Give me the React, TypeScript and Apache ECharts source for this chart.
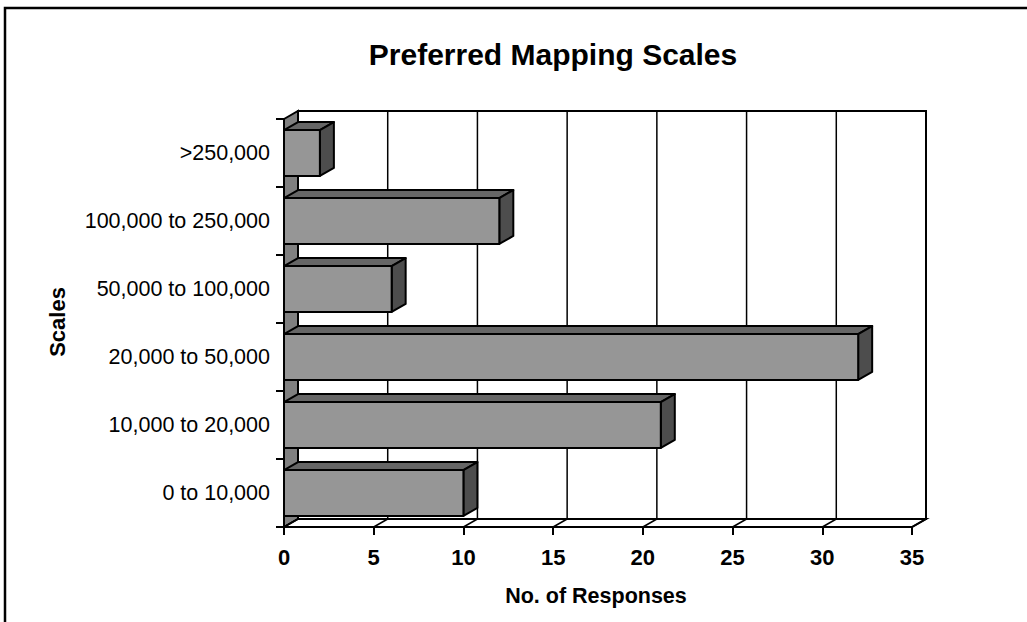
import React, { useEffect, useRef } from "react";
import * as echarts from "echarts";

const categories = [
  "0 to 10,000",
  "10,000 to 20,000",
  "20,000 to 50,000",
  "50,000 to 100,000",
  "100,000 to 250,000",
  ">250,000",
];
const responses = [10, 21, 32, 6, 12, 2];
const xTicks = [0, 5, 10, 15, 20, 25, 30, 35];

const DX = 14;
const DY = 8;

export default function App() {
  const ref = useRef<HTMLDivElement>(null);
  useEffect(() => {
    if (!ref.current) return;
    const chart = echarts.init(ref.current, undefined, { renderer: "svg" });
    const font = "Arial, 'Liberation Sans', sans-serif";
    const option: any = {
      animation: false,
      backgroundColor: "#ffffff",
      grid: { left: 284, top: 119, width: 628, height: 408, containLabel: false },
      xAxis: {
        type: "value",
        min: 0,
        max: 35,
        interval: 5,
        splitLine: { show: false },
        axisLine: { show: true, lineStyle: { color: "#000", width: 2 } },
        axisTick: { show: true, length: 8, lineStyle: { color: "#000", width: 2 } },
        axisLabel: { color: "#000", fontSize: 22, fontWeight: "bold", fontFamily: font, margin: 19 },
        z: 5,
      },
      yAxis: {
        type: "category",
        data: categories,
        boundaryGap: true,
        axisLine: { show: true, lineStyle: { color: "#000", width: 2 } },
        axisTick: { show: true, length: 8, lineStyle: { color: "#000", width: 2 } },
        axisLabel: { color: "#000", fontSize: 21.5, fontFamily: font, margin: 14 },
        splitLine: { show: false },
        z: 5,
      },
      graphic: [
        {
          type: "polyline",
          shape: { points: [[5, 640], [5, 8], [1040, 8]] },
          style: { stroke: "#000", lineWidth: 2.5, fill: null },
          z: 10,
        },
        {
          type: "text",
          x: 553,
          y: 54,
          style: {
            text: "Preferred Mapping Scales",
            fontSize: 30,
            fontWeight: "bold",
            fontFamily: font,
            fill: "#000",
            textAlign: "center",
            textVerticalAlign: "middle",
          },
        },
        {
          type: "text",
          x: 596,
          y: 596,
          style: {
            text: "No. of Responses",
            fontSize: 21.5,
            fontWeight: "bold",
            fontFamily: font,
            fill: "#000",
            textAlign: "center",
            textVerticalAlign: "middle",
          },
        },
        {
          type: "text",
          x: 57,
          y: 322,
          rotation: Math.PI / 2,
          style: {
            text: "Scales",
            fontSize: 22,
            fontWeight: "bold",
            fontFamily: font,
            fill: "#000",
            textAlign: "center",
            textVerticalAlign: "middle",
          },
        },
      ],
      series: [
        {
          type: "custom",
          clip: false,
          z: 1,
          data: [[0, 0]],
          renderItem: (params: any, api: any) => {
            const cs = params.coordSys;
            const x0 = cs.x;
            const y0 = cs.y;
            const x1 = cs.x + cs.width;
            const y1 = cs.y + cs.height;
            const children: any[] = [];
            children.push({
              type: "polygon",
              shape: { points: [[x0, y0], [x0 + DX, y0 - DY], [x0 + DX, y1 - DY], [x0, y1]] },
              style: { fill: "#808080", stroke: "#000", lineWidth: 2 },
            });
            children.push({
              type: "rect",
              shape: { x: x0 + DX, y: y0 - DY, width: x1 - x0, height: y1 - y0 },
              style: { fill: "#fff", stroke: "#000", lineWidth: 2 },
            });
            children.push({
              type: "polygon",
              shape: { points: [[x0, y1], [x0 + DX, y1 - DY], [x1 + DX, y1 - DY], [x1, y1]] },
              style: { fill: "#fff", stroke: "#000", lineWidth: 2 },
            });
            xTicks.forEach((t) => {
              const px = api.coord([t, 0])[0];
              if (t > 0 && t < 35) {
                children.push({
                  type: "line",
                  shape: { x1: px + DX, y1: y0 - DY, x2: px + DX, y2: y1 - DY },
                  style: { stroke: "#000", lineWidth: 1.5 },
                });
              }
              children.push({
                type: "line",
                shape: { x1: px, y1: y1, x2: px + DX, y2: y1 - DY },
                style: { stroke: "#000", lineWidth: 1.5 },
              });
            });
            return { type: "group", children };
          },
        },
        {
          type: "custom",
          clip: false,
          z: 3,
          data: responses.map((v, i) => [v, i]),
          encode: { x: 0, y: 1 },
          renderItem: (params: any, api: any) => {
            const v = api.value(0);
            const idx = api.value(1);
            const s = api.coord([0, idx]);
            const e = api.coord([v, idx]);
            const band = api.size([0, 1])[1];
            const h = band * 0.676;
            const xa = s[0];
            const xb = e[0];
            const ya = s[1] - h / 2;
            const yb = ya + h;
            const st = { stroke: "#000", lineWidth: 2, lineJoin: "round" };
            return {
              type: "group",
              children: [
                {
                  type: "polygon",
                  shape: { points: [[xa, ya], [xb, ya], [xb + DX, ya - DY], [xa + DX, ya - DY]] },
                  style: { fill: "#666666", ...st },
                },
                {
                  type: "polygon",
                  shape: { points: [[xb, ya], [xb + DX, ya - DY], [xb + DX, yb - DY], [xb, yb]] },
                  style: { fill: "#4d4d4d", ...st },
                },
                {
                  type: "rect",
                  shape: { x: xa, y: ya, width: xb - xa, height: h },
                  style: { fill: "#969696", ...st },
                },
              ],
            };
          },
        },
      ],
    };
    chart.setOption(option);
    return () => chart.dispose();
  }, []);
  return (
    <div
      ref={ref}
      style={{ position: "fixed", left: 0, top: 0, width: 1027, height: 622 }}
    />
  );
}
